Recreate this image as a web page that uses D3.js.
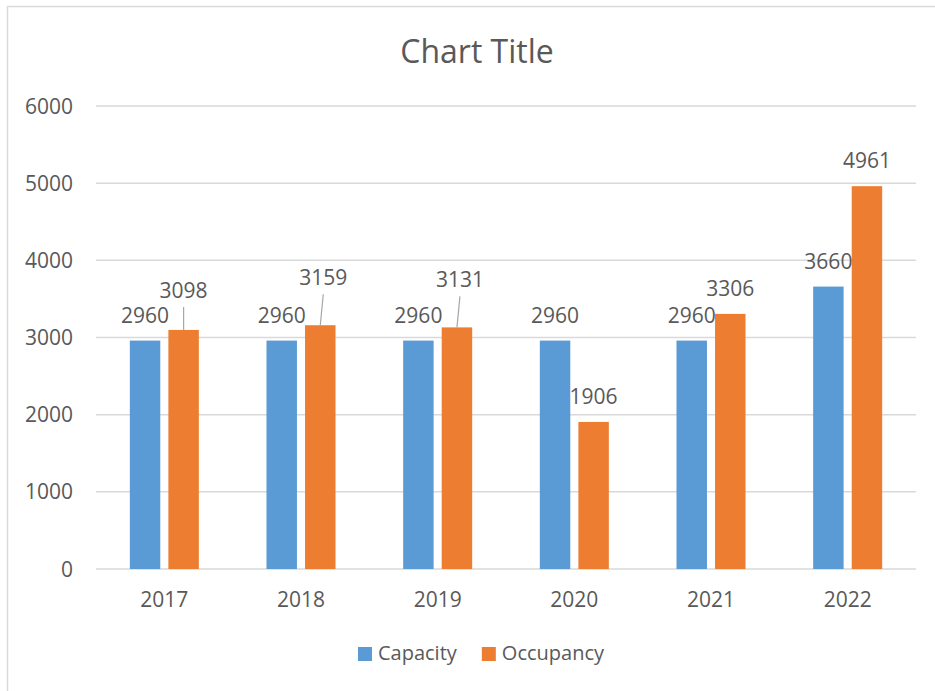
<!DOCTYPE html>
<html lang="en">
<head>
    <meta charset="utf-8">
    <title>Chart Title</title>
    <script src="https://d3js.org/d3.v7.min.js"></script>
    <style>
        body { margin: 0; background: #fff; }
        text { font-family: "Open Sans", "Liberation Sans", sans-serif; fill: #595959; }
    </style>
</head>
<body>
<svg id="chart"></svg>
<script>

    // data
    const years = ["2017", "2018", "2019", "2020", "2021", "2022"];
    const seriesNames = ["Capacity", "Occupancy"];
    const capacity = [2960, 2960, 2960, 2960, 2960, 3660];
    const occupancy = [3098, 3159, 3131, 1906, 3306, 4961];
    const yTicks = [0, 1000, 2000, 3000, 4000, 5000, 6000];

    // labels that were dragged away from the bar, with a leader line (pixel nudges)
    const movedLabels = {"Occupancy-2017": [0, -14], "Occupancy-2018": [3, -22], "Occupancy-2019": [3, -22]};

    let width = 935,
        height = 691,
        margin = {top: 106, right: 19, bottom: 122, left: 96},
        chartWidth = width - margin.left - margin.right,
        chartHeight = height - margin.top - margin.bottom;

    const colors = {Capacity: "#5B9BD5", Occupancy: "#ED7D31"};

    let svg = d3.select("#chart")
        .attr("width", width)
        .attr("height", height);

    // outer chart border
    svg.append("rect")
        .attr("x", 7.5).attr("y", 6.5)
        .attr("width", width + 10).attr("height", height + 10)
        .attr("fill", "none")
        .attr("stroke", "#D9D9D9")
        .attr("stroke-width", 1.5);

    svg.append("text")
        .attr("x", 477).attr("y", 63)
        .attr("text-anchor", "middle")
        .style("font-size", "32px")
        .text("Chart Title");

    let g = svg.append("g")
        .attr("transform", `translate(${margin.left},${margin.top})`);

    let x0 = d3.scaleBand()
        .domain(years)
        .range([0, chartWidth])
        .paddingInner(0.495)
        .paddingOuter(0.2475);

    let x1 = d3.scaleBand()
        .domain(seriesNames)
        .range([0, x0.bandwidth()])
        .paddingInner(0.21);

    let y = d3.scaleLinear()
        .domain([0, 6000])
        .range([chartHeight, 0]);

    // gridlines
    g.append("g")
        .selectAll("line")
        .data(yTicks)
        .join("line")
        .attr("x1", 0).attr("x2", chartWidth)
        .attr("y1", d => y(d)).attr("y2", d => y(d))
        .attr("stroke", "#D9D9D9")
        .attr("stroke-width", 1.5);

    // y axis labels
    g.append("g")
        .selectAll("text")
        .data(yTicks)
        .join("text")
        .attr("x", -23)
        .attr("y", d => y(d))
        .attr("dy", "0.36em")
        .attr("text-anchor", "end")
        .style("font-size", "21px")
        .text(d => d);

    // x axis labels
    g.append("g")
        .selectAll("text")
        .data(years)
        .join("text")
        .attr("x", d => x0(d) + x0.bandwidth() / 2)
        .attr("y", chartHeight + 38)
        .attr("text-anchor", "middle")
        .style("font-size", "21px")
        .text(d => d);

    let rows = [];
    years.forEach((yr, i) => {
        rows.push({year: yr, series: "Capacity", value: capacity[i]});
        rows.push({year: yr, series: "Occupancy", value: occupancy[i]});
    });

    g.append("g")
        .selectAll("rect")
        .data(rows)
        .join("rect")
        .attr("x", d => x0(d.year) + x1(d.series))
        .attr("y", d => y(d.value))
        .attr("width", x1.bandwidth())
        .attr("height", d => chartHeight - y(d.value))
        .attr("fill", d => colors[d.series]);

    // data labels
    let labels = g.append("g");
    rows.forEach(d => {
        let cx = x0(d.year) + x1(d.series) + x1.bandwidth() / 2;
        let top = y(d.value);
        let nudge = movedLabels[d.series + "-" + d.year];
        let lx = cx, ly = top - 18;
        if (nudge) {
            lx += nudge[0];
            ly += nudge[1];
            labels.append("line")
                .attr("x1", lx).attr("y1", ly + 9)
                .attr("x2", cx).attr("y2", top)
                .attr("stroke", "#A6A6A6")
                .attr("stroke-width", 1.2);
        }
        labels.append("text")
            .attr("x", lx).attr("y", ly)
            .attr("text-anchor", "middle")
            .style("font-size", "21px")
            .text(d.value);
    });

    // legend
    let legend = svg.append("g").attr("class", "legend");
    let offset = 0;
    seriesNames.forEach(name => {
        let item = legend.append("g").attr("transform", `translate(${offset},0)`);
        item.append("rect")
            .attr("x", 0).attr("y", -13)
            .attr("width", 14).attr("height", 14)
            .attr("fill", colors[name]);
        let t = item.append("text")
            .attr("x", 20).attr("y", 0)
            .style("font-size", "20px")
            .text(name);
        offset += 20 + t.node().getComputedTextLength() + 25;
    });
    let legendWidth = offset - 25;
    legend.attr("transform", `translate(${481 - legendWidth / 2},660)`);

</script>
</body>
</html>
